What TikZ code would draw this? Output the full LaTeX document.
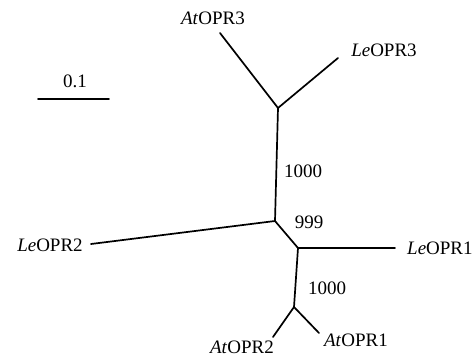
\documentclass[tikz,border=0pt]{standalone}
\usepackage{fontspec}
\setmainfont{Liberation Serif}
\begin{document}
\begin{tikzpicture}[x=1pt,y=-1pt,
  branch/.style={line width=1.7pt,line cap=round},
  lab/.style={inner sep=0pt,font=\fontsize{19}{22}\selectfont}]
\useasboundingbox (0,0) rectangle (474,357);
% internal nodes and tips
\coordinate (n1) at (278,108);
\coordinate (n2) at (275,221);
\coordinate (n3) at (298,248);
\coordinate (n4) at (294,307);
\coordinate (ta3) at (220,33);
\coordinate (tl3) at (338,58);
\coordinate (tl2) at (91,244);
\coordinate (tl1) at (395,248);
\coordinate (ta2) at (273,337);
\coordinate (ta1) at (319,333);
\coordinate (s1) at (38,99);
\coordinate (s2) at (109,99);
% branches
\draw[branch] (ta3) -- (n1) -- (tl3);
\draw[branch] (n1) -- (n2);
\draw[branch] (tl2) -- (n2) -- (n3) -- (tl1);
\draw[branch] (n3) -- (n4);
\draw[branch] (ta2) -- (n4) -- (ta1);
\draw[branch] (s1) -- (s2);
% labels
\node[lab] (la3) at (213,18) {\textit{At}OPR3};
\node[lab] (ll3) at (384,50) {\textit{Le}OPR3};
\node[lab] (ll2) at (50,245) {\textit{Le}OPR2};
\node[lab,anchor=west] (ll1) at (407,248) {\textit{Le}OPR1};
\node[lab] (la1) at (356,340) {\textit{At}OPR1};
\node[lab] (la2) at (242,347) {\textit{At}OPR2};
\node[lab] (b1) at (303,171) {1000};
\node[lab] (b2) at (309,222) {999};
\node[lab] (b3) at (327,288) {1000};
\node[lab] (sc) at (75,81) {0.1};
\end{tikzpicture}
\end{document}
